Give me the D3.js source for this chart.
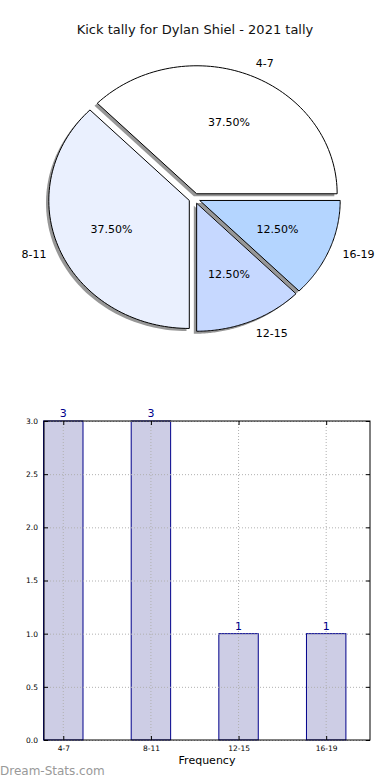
<!DOCTYPE html>
<html><head><meta charset="utf-8">
<script src="https://cdn.jsdelivr.net/npm/d3@7"></script>
<style>body{margin:0;background:#fff}svg{display:block}text{font-family:"DejaVu Sans",sans-serif}</style>
</head><body><svg id="c" width="390" height="780"></svg>
<script>
const categories = ["4-7","8-11","12-15","16-19"];
const counts = [3,3,1,1];
const sliceColors = ["#ffffff","#eaf0fe","#c6d8ff","#b4d5ff"];
const yTicks = [0,0.5,1.0,1.5,2.0,2.5,3.0];
const title = "Kick tally for Dylan Shiel - 2021 tally";

const svg = d3.select("#c");
svg.append("text").attr("x",195).attr("y",34).attr("text-anchor","middle")
  .attr("font-size",13).attr("fill","#111").text(title);

// ---- Pie (matplotlib-like, elliptical, exploded, shadowed) ----
const cx = 194.5, cy = 198.5, rx = 140.5, ry = 128, ex = 0.04;
const total = d3.sum(counts);
const angles = d3.pie().sort(null).startAngle(0).endAngle(2*Math.PI)(counts);
// matplotlib: start at 0 rad (3 o'clock), counter-clockwise
function wedgePath(a0, a1, ox, oy){
  const p = d3.path();
  p.moveTo(ox, oy);
  const n = 80;
  for(let i=0;i<=n;i++){
    const t = a0 + (a1-a0)*i/n;
    p.lineTo(ox + rx*Math.cos(t), oy - ry*Math.sin(t));
  }
  p.closePath();
  return p.toString();
}
const wedges = angles.map((d,i)=>{
  const a0 = d.startAngle, a1 = d.endAngle, am = (a0+a1)/2;
  const ox = cx + ex*rx*Math.cos(am), oy = cy - ex*ry*Math.sin(am);
  return {i, a0, a1, am, ox, oy, v:d.data};
});
const g = svg.append("g");
g.selectAll("path.sh").data(wedges).join("path").attr("class","sh")
  .attr("d",w=>wedgePath(w.a0,w.a1,w.ox-0.02*rx,w.oy+0.02*ry))
  .attr("fill","#8c8c8c").attr("opacity",0.9);
g.selectAll("path.w").data(wedges).join("path").attr("class","w")
  .attr("d",w=>wedgePath(w.a0,w.a1,w.ox,w.oy))
  .attr("fill",w=>sliceColors[w.i]).attr("stroke","#000").attr("stroke-width",1).attr("stroke-linejoin","miter");
g.selectAll("text.lab").data(wedges).join("text").attr("class","lab")
  .attr("x",w=>w.ox+1.1*rx*Math.cos(w.am)).attr("y",w=>w.oy-1.1*ry*Math.sin(w.am))
  .attr("text-anchor",w=>Math.cos(w.am)>0?"start":"end").attr("dominant-baseline","central")
  .attr("font-size",11).attr("fill","#000").text(w=>categories[w.i]);
g.selectAll("text.pct").data(wedges).join("text").attr("class","pct")
  .attr("x",w=>w.ox+0.6*rx*Math.cos(w.am)).attr("y",w=>w.oy-0.6*ry*Math.sin(w.am))
  .attr("text-anchor","middle").attr("dominant-baseline","central")
  .attr("font-size",11).attr("fill","#000").text(w=>(100*w.v/total).toFixed(2)+"%");

// ---- Bar chart ----
const L=44, R=370, T=421, B=740;
const x = d3.scaleLinear().domain([-0.22,3.5]).range([L,R]);
const y = d3.scaleLinear().domain([0,3]).range([B,T]);
const bw = 0.45;
const bg = svg.append("g");
bg.selectAll("rect.bar").data(counts).join("rect").attr("class","bar")
  .attr("x",(d,i)=>x(i-bw/2)).attr("width",x(bw)-x(0))
  .attr("y",d=>y(d)).attr("height",d=>B-y(d))
  .attr("fill","#cdcde5").attr("stroke","#00008b").attr("stroke-width",1);
// grid
bg.selectAll("line.gy").data(yTicks).join("line").attr("class","gy")
  .attr("x1",L).attr("x2",R).attr("y1",d=>y(d)+0.5).attr("y2",d=>y(d)+0.5)
  .attr("stroke","#b0b0b0").attr("stroke-dasharray","1,2");
bg.selectAll("line.gx").data(categories).join("line").attr("class","gx")
  .attr("x1",(d,i)=>x(i)).attr("x2",(d,i)=>x(i)).attr("y1",T).attr("y2",B)
  .attr("stroke","#b0b0b0").attr("stroke-dasharray","1,2");
// axes
const ya = d3.axisLeft(y).tickValues(yTicks).tickFormat(d3.format(".1f")).tickSize(-4).tickPadding(6);
const yr = d3.axisRight(y).tickValues(yTicks).tickFormat("").tickSize(-4);
const xa = d3.axisBottom(x).tickValues([0,1,2,3]).tickFormat(i=>categories[i]).tickSize(-4).tickPadding(6);
const xt = d3.axisTop(x).tickValues([0,1,2,3]).tickFormat("").tickSize(-4);
function style(s){s.select(".domain").remove();s.selectAll("line").attr("stroke","#000");s.selectAll("text").attr("font-family","DejaVu Sans, sans-serif").attr("font-size",7.5).attr("fill","#000");}
svg.append("g").attr("transform",`translate(${L},0)`).call(ya).call(style);
svg.append("g").attr("transform",`translate(${R},0)`).call(yr).call(style);
svg.append("g").attr("transform",`translate(0,${B})`).call(xa).call(style);
svg.append("g").attr("transform",`translate(0,${T})`).call(xt).call(style);
svg.append("rect").attr("x",L).attr("y",T).attr("width",R-L).attr("height",B-T)
  .attr("fill","none").attr("stroke","#000").attr("stroke-width",1);
bg.selectAll("text.val").data(counts).join("text").attr("class","val")
  .attr("x",(d,i)=>x(i)).attr("y",d=>y(d)-4).attr("text-anchor","middle")
  .attr("font-size",11).attr("fill","#00008b").text(d=>d);
svg.append("text").attr("x",207).attr("y",764).attr("text-anchor","middle")
  .attr("font-size",11).attr("fill","#000").text("Frequency");
svg.append("text").attr("x",0).attr("y",775).attr("font-size",12)
  .attr("fill","#999").text("Dream-Stats.com");
</script></body></html>
